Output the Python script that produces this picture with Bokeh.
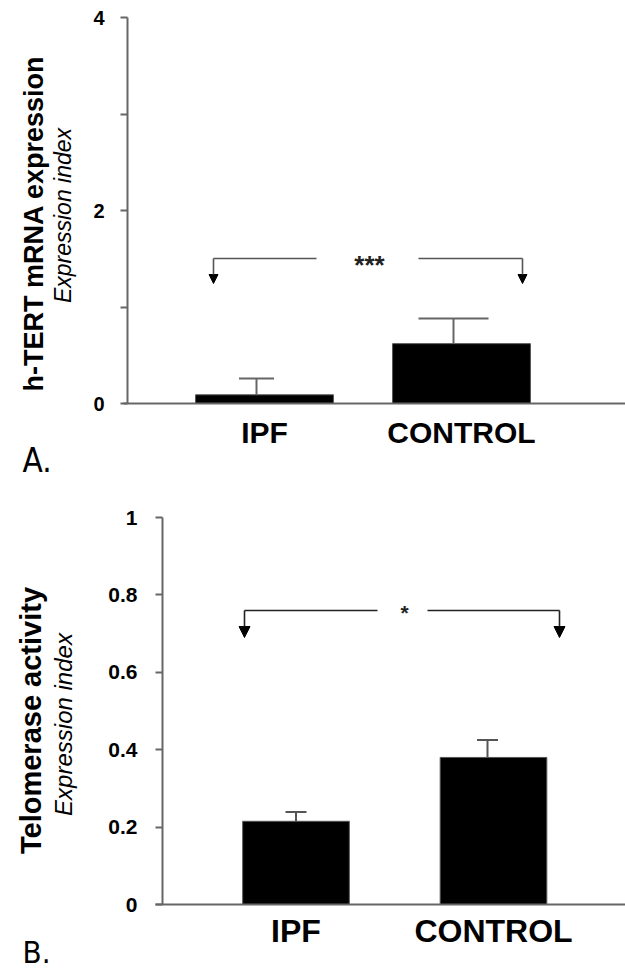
from bokeh.plotting import figure
from bokeh.models import Range1d, FixedTicker, Label, Arrow, NormalHead, ColumnDataSource
from bokeh.layouts import column
from bokeh.embed import file_html
from bokeh.resources import INLINE

# ---------------- data ----------------
categories = ["IPF", "CONTROL"]
x_pos = [1, 2]

# Panel A: h-TERT mRNA expression (expression index)
a_values = [0.09, 0.62]
a_errors = [0.17, 0.26]
a_ticks = [0, 1, 2, 3, 4]
a_tick_labels = {0: "0", 1: "", 2: "2", 3: "", 4: "4"}
a_signif = "***"

# Panel B: Telomerase activity (expression index)
b_values = [0.215, 0.38]
b_errors = [0.024, 0.045]
b_ticks = [0, 0.2, 0.4, 0.6, 0.8, 1.0]
b_tick_labels = {0: "0", 0.2: "0.2", 0.4: "0.4", 0.6: "0.6", 0.8: "0.8", 1: "1"}
b_signif = "*"

# ---------------- styling / layout ----------------
BOLD = "Liberation Sans"
NARROW = "'Liberation Sans Narrow', 'DejaVu Sans Condensed', sans-serif"
PAGE_W = 625


class Mapper:
    """page-pixel <-> data helper for one panel (layout only)."""
    def __init__(self, top_px, height, x1_px, x2_px, y0_px, yref_px, yref_val):
        self.top = top_px
        self.h = height
        self.x1 = x1_px
        self.dx = x2_px - x1_px
        self.y0 = y0_px
        self.dy = (y0_px - yref_px) / yref_val

    def x(self, px):
        return 1 + (px - self.x1) / self.dx

    def y(self, py):
        return (self.y0 - py) / self.dy


def make_panel(values, errors, ticks, tick_labels, signif, m, st):
    p = figure(width=PAGE_W, height=m.h, output_backend="svg", toolbar_location=None,
               x_range=Range1d(m.x(0), m.x(PAGE_W)),
               y_range=Range1d(m.y(m.top + m.h), m.y(m.top)),
               min_border=0, min_border_left=0, min_border_right=0,
               min_border_top=0, min_border_bottom=0)
    p.outline_line_color = None
    p.grid.visible = False

    # bars
    src = ColumnDataSource(dict(x=x_pos, top=values))
    p.vbar(x="x", top="top", width=st["bar_width"], source=src,
           fill_color="black", line_color="#555555", line_width=1)

    # upper error bars
    ex = [x + o / m.dx for x, o in zip(x_pos, st["err_off_px"])]
    etop = [v + e for v, e in zip(values, errors)]
    p.segment(x0=ex, y0=values, x1=ex, y1=etop,
              line_color=st["err_color"], line_width=st["err_width"])
    caps = [c / m.dx for c in st["cap_half_px"]]
    p.segment(x0=[x - c for x, c in zip(ex, caps)], y0=etop,
              x1=[x + c for x, c in zip(ex, caps)], y1=etop,
              line_color=st["err_color"], line_width=st["err_width"])

    # significance bracket with arrows
    by = m.y(st["br_y"])
    ty = m.y(st["tip_y"])
    bl, br = m.x(st["br_l"]), m.x(st["br_r"])
    gl, gr = m.x(st["gap_l"]), m.x(st["gap_r"])
    p.segment(x0=[bl, gr], y0=[by, by], x1=[gl, br], y1=[by, by],
              line_color=st["br_color"], line_width=1.6)
    for bx in (bl, br):
        p.add_layout(Arrow(x_start=bx, y_start=by, x_end=bx, y_end=ty,
                           line_color=st["br_color"], line_width=1.6,
                           end=NormalHead(size=st["head"], fill_color="black",
                                          line_color="black", line_width=1)))
    fs = st["star_fs"]
    p.add_layout(Label(x=m.x(st["star_x"]), y=m.y(st["star_y"] + 0.23 * fs), text=signif,
                       text_align="center", text_baseline="middle",
                       text_font=BOLD, text_font_size=f"{fs}px", text_font_style="bold",
                       text_color="#222222"))

    # x axis (fixed at y = 0)
    xa = p.xaxis[0]
    xa.fixed_location = 0
    xa.bounds = (m.x(st["xaxis_left"]), m.x(PAGE_W))
    xa.ticker = FixedTicker(ticks=x_pos)
    xa.major_label_overrides = {x: c for x, c in zip(x_pos, categories)}
    xa.major_tick_line_color = None
    xa.minor_tick_line_color = None
    xa.major_tick_out = 0
    xa.major_tick_in = 0
    xa.axis_line_color = "#666666"
    xa.axis_line_width = 2
    xa.major_label_text_font = BOLD
    xa.major_label_text_font_style = "bold"
    xa.major_label_text_font_size = st["xlab_fs"]
    xa.major_label_text_color = "black"
    xa.major_label_standoff = st["x_standoff"]

    # y axis (fixed at axis position)
    ya = p.yaxis[0]
    ya.fixed_location = m.x(st["yaxis_px"])
    ya.bounds = (ticks[0], ticks[-1])
    ya.ticker = FixedTicker(ticks=ticks)
    ya.major_label_overrides = tick_labels
    ya.minor_tick_line_color = None
    ya.major_tick_in = 0
    ya.major_tick_out = 7
    ya.major_tick_line_color = "#666666"
    ya.major_tick_line_width = 2
    ya.axis_line_color = "#666666"
    ya.axis_line_width = 2
    ya.major_label_text_font = BOLD
    ya.major_label_text_font_style = "bold"
    ya.major_label_text_font_size = st["tick_fs"]
    ya.major_label_text_color = "black"
    ya.major_label_standoff = st["y_standoff"]

    # axis titles
    p.add_layout(Label(x=m.x(st["t1"][0]), y=m.y(st["t1"][1]), text=st["title1"],
                       angle=90, angle_units="deg",
                       text_align="center", text_baseline="middle",
                       text_font=BOLD, text_font_style="bold",
                       text_font_size=st["t1_fs"], text_color="black"))
    p.add_layout(Label(x=m.x(st["t2"][0]), y=m.y(st["t2"][1]), text="Expression index",
                       angle=90, angle_units="deg",
                       text_align="center", text_baseline="middle",
                       text_font=BOLD, text_font_style="italic",
                       text_font_size=st["t2_fs"], text_color="black"))
    # panel letter
    p.add_layout(Label(x=m.x(st["letter"][0]), y=m.y(st["letter"][1]), text=st["letter_text"],
                       text_align="left", text_baseline="middle",
                       text_font=NARROW, text_font_size=st["letter_fs"], text_color="black"))
    return p


mA = Mapper(top_px=0, height=490, x1_px=264, x2_px=461, y0_px=403, yref_px=17, yref_val=4)
stA = dict(bar_width=0.70, err_off_px=[-8, -8], cap_half_px=[17.5, 35],
           err_color="#666666", err_width=2,
           br_y=258, tip_y=283, br_l=213, br_r=522, gap_l=316, gap_r=418,
           br_color="#555555", head=9, star_x=369, star_y=259, star_fs=26,
           xaxis_left=123, yaxis_px=127, xlab_fs="30px", x_standoff=12,
           tick_fs="20px", y_standoff=16,
           title1="h-TERT mRNA expression", t1=(33, 223), t1_fs="27px",
           t2=(62, 215), t2_fs="23px",
           letter_text="A.", letter=(22, 460), letter_fs="33px")

mB = Mapper(top_px=490, height=483, x1_px=295.5, x2_px=493, y0_px=904, yref_px=517, yref_val=1)
stB = dict(bar_width=0.54, err_off_px=[0, -6], cap_half_px=[10.5, 10.5],
           err_color="#555555", err_width=2,
           br_y=610, tip_y=637, br_l=244, br_r=559, gap_l=377, gap_r=427,
           br_color="#222222", head=11, star_x=404, star_y=607, star_fs=21,
           xaxis_left=155, yaxis_px=162, xlab_fs="32px", x_standoff=8,
           tick_fs="21px", y_standoff=18,
           title1="Telomerase activity", t1=(30, 720), t1_fs="29px",
           t2=(63, 724), t2_fs="24px",
           letter_text="B.", letter=(22, 951), letter_fs="31px")

pA = make_panel(a_values, a_errors, a_ticks, a_tick_labels, a_signif, mA, stA)
pB = make_panel(b_values, b_errors, b_ticks, b_tick_labels, b_signif, mB, stB)

layout = column(pA, pB, spacing=0)
open("out.html", "w").write(file_html(layout, INLINE))
